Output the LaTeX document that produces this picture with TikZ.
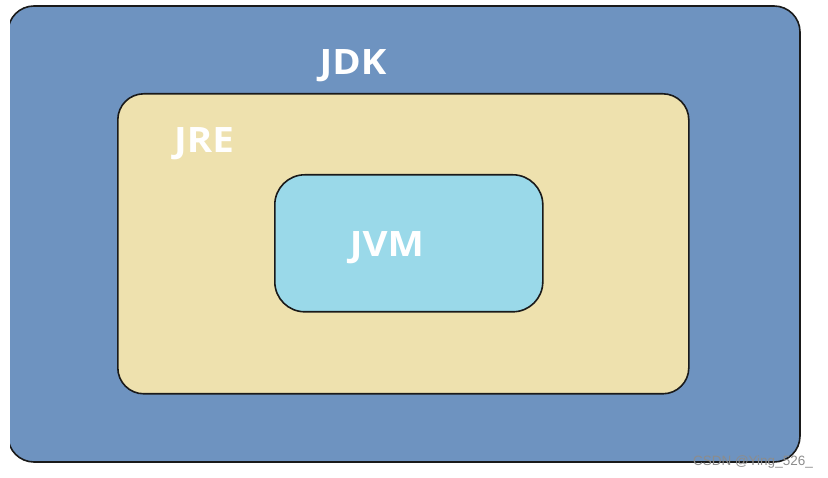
\documentclass[tikz,border=0pt]{standalone}
\usepackage{fontspec}
\setmainfont{Open Sans}
\newfontfamily\wmfont{Liberation Sans}
\definecolor{jdkblue}{HTML}{6E93C0}
\definecolor{jrebeige}{HTML}{EEE1AE}
\definecolor{jvmblue}{HTML}{9AD9E9}
\definecolor{edge}{HTML}{1A1A1A}
\begin{document}
\begin{tikzpicture}[x=1pt,y=-1pt,
  boxstyle/.style={draw=edge,line width=1.6pt},
  lbl/.style={text=white,font=\fontsize{35}{38}\selectfont\bfseries\addfontfeature{FakeStretch=1.1},inner sep=0pt,anchor=base}]
\useasboundingbox[fill=white] (0,0) rectangle (828,478);
\begin{scope}
\clip (10,0) rectangle (828,478);
\path[boxstyle,fill=jdkblue,rounded corners=26pt] (8,6) rectangle (800,462);
\end{scope}
\node[boxstyle,fill=jrebeige,rounded corners=26pt,minimum width=571pt,minimum height=300pt,anchor=north west] (jre) at (117,93) {};
\node[boxstyle,fill=jvmblue,rounded corners=30pt,minimum width=268pt,minimum height=137pt,anchor=north west] (jvm) at (274,174) {};
\node[lbl] (jdk) at (353,75) {JDK};
\node[lbl] (jrel) at (204,153) {JRE};
\node[lbl] (jvml) at (387,257) {JVM};
\node[text=gray!90,font=\wmfont\fontsize{13.5}{15}\selectfont,inner sep=0pt,anchor=base east] (wm) at (813,465) {CSDN @Ying\_526\_};
\end{tikzpicture}
\end{document}
